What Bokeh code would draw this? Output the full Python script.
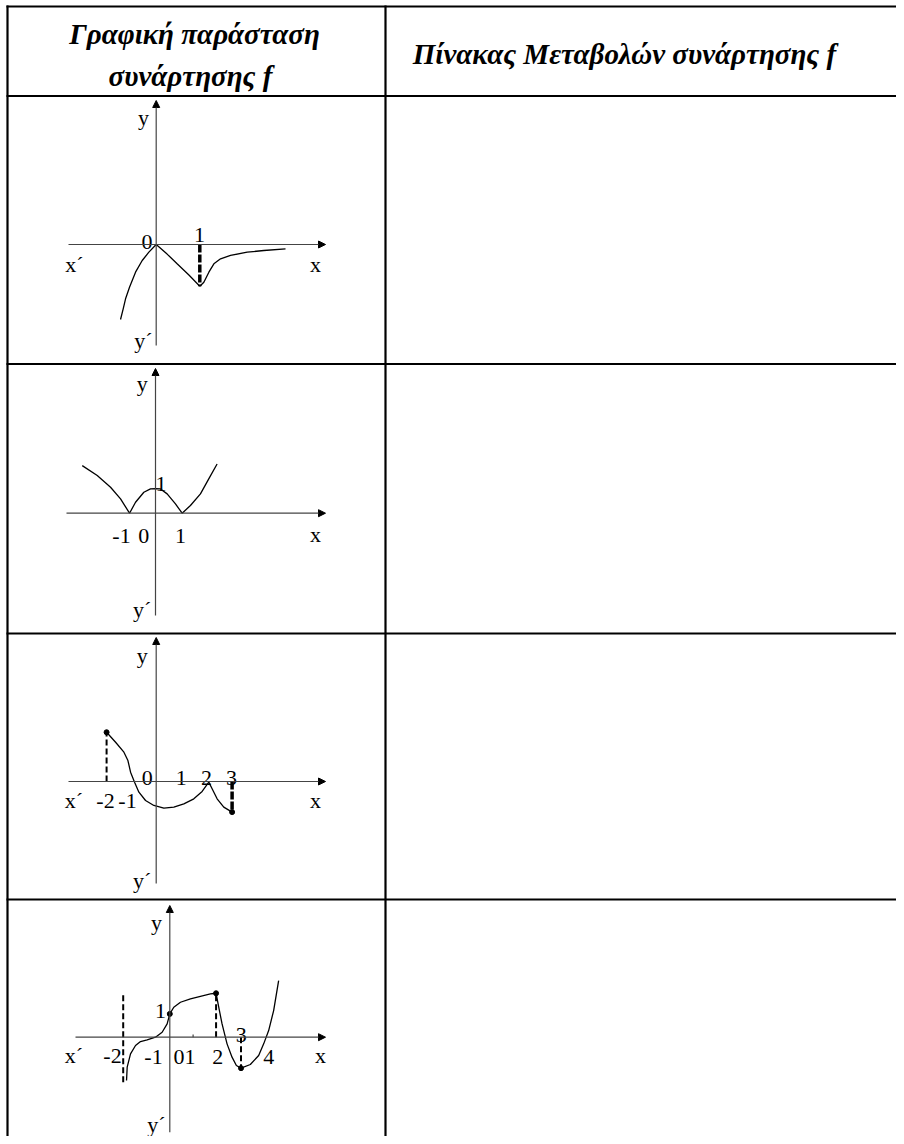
from bokeh.plotting import figure
from bokeh.models import Range1d, Arrow, NormalHead
from bokeh.core.properties import value
from bokeh.embed import file_html
from bokeh.resources import INLINE

# ---------------- data (math coordinates of each sketched graph) ----------------
# Panel 1
g1_left_x = [0.0, -0.168, -0.321, -0.474, -0.612, -0.703, -0.757, -0.818]
g1_left_y = [0.0, -0.176, -0.367, -0.635, -0.979, -1.246, -1.476, -1.72]
g1_mid_x = [0.0, 0.25, 0.48, 0.75, 1.0]
g1_mid_y = [0.0, -0.22, -0.443, -0.70, -0.956]
g1_right_x = [1.0, 1.093, 1.208, 1.323, 1.476, 1.705, 2.087, 2.469, 2.966]
g1_right_y = [-0.956, -0.864, -0.635, -0.443, -0.329, -0.252, -0.176, -0.138, -0.099]
g1_dash_x = [1.0]
g1_dash_y = [-0.956]

# Panel 2
g2_x = [-2.785, -2.215, -1.709, -1.329, -0.987, -0.759, -0.443, -0.19, 0.0, 0.19,
        0.443, 0.759, 1.013, 1.329, 1.709, 2.025, 2.342]
g2_y = [1.959, 1.548, 1.068, 0.589, 0.0, 0.452, 0.863, 1.0, 1.01, 1.0,
        0.795, 0.384, 0.0, 0.315, 0.795, 1.411, 2.027]

# Panel 3
g3_a_x = [-1.961, -1.605, -1.276, -1.118, -1.013, -0.855, -0.684, -0.421, -0.092,
          0.303, 0.697, 1.092, 1.487, 1.816, 2.079]
g3_a_y = [1.947, 1.553, 1.158, 0.829, 0.368, -0.026, -0.421, -0.75, -0.947,
          -1.053, -1.013, -0.882, -0.684, -0.395, -0.026]
g3_b_x = [2.079, 2.21, 2.408, 2.671, 3.0]
g3_b_y = [-0.026, -0.289, -0.684, -1.013, -1.21]
g3_dots_x = [-1.961, 3.0]
g3_dots_y = [1.947, -1.21]
g3_thin_dash_x = [-1.961]
g3_thin_dash_y = [1.947]
g3_thick_dash_x = [3.0]
g3_thick_dash_y = [-1.21]

# Panel 4
g4_a_x = [-1.857, -1.829, -1.686, -1.471, -1.257, -0.971, -0.614, -0.329, -0.114, 0.0]
g4_a_y = [-1.857, -1.286, -0.714, -0.357, -0.186, -0.114, 0.0, 0.214, 0.571, 1.0]
g4_b_x = [0.0, 0.171, 0.457, 0.886, 1.314, 1.743, 1.986]
g4_b_y = [1.0, 1.286, 1.5, 1.643, 1.757, 1.857, 1.886]
g4_c_x = [1.986, 2.1, 2.243, 2.457, 2.671, 2.857, 3.057]
g4_c_y = [1.886, 1.286, 0.571, -0.286, -0.857, -1.214, -1.329]
g4_d_x = [3.057, 3.457, 3.814, 4.029, 4.243, 4.457, 4.671]
g4_d_y = [-1.329, -1.171, -0.786, -0.286, 0.286, 1.143, 2.429]
g4_dots_x = [0.0, 1.986, 3.057]
g4_dots_y = [1.0, 1.886, -1.329]
g4_asym_x = [-2.0]
g4_asym_y0 = [-1.93]
g4_asym_y1 = [1.857]
g4_dash_x = [1.986, 3.057]
g4_dash_y = [1.886, -1.329]

# tick labels / texts
header_left = ["Γραφική παράσταση", "συνάρτησης f"]
header_right = ["Πίνακας Μεταβολών συνάρτησης f"]
p1_labels = ["y", "y´", "x´", "x", "0", "1"]
p2_labels = ["y", "y´", "x", "-1", "0", "1", "1"]
p3_labels = ["y", "y´", "x´", "-2", "-1", "0", "1", "2", "3", "x"]
p4_labels = ["y", "y´", "x´", "-2", "-1", "01", "2", "3", "4", "x", "1"]

# ---------------- layout (picture pixel coordinates) ----------------
W, H = 896, 1136
X0, X1, Y0, Y1 = 0, W, 0, H

panels = [
    dict(ox=155.7, oy=244.0, ux=43.6, uy=43.6, xa=(68, 325), ya=(345, 100)),
    dict(ox=155.0, oy=512.7, ux=26.3, uy=24.3, xa=(66, 325), ya=(615, 368)),
    dict(ox=155.7, oy=781.0, ux=25.3, uy=25.3, xa=(68, 325), ya=(883, 637)),
    dict(ox=169.3, oy=1036.7, ux=23.3, uy=23.3, xa=(75, 325), ya=(1131.7, 905)),
]
p1_pos = [(143, 117), (143, 340), (74, 264), (315, 264), (146.5, 241), (199, 234)]
p2_pos = [(141.7, 383), (141.7, 609), (315, 534), (121, 535), (143.3, 535), (180, 535.7), (160.5, 483.3)]
p3_pos = [(141.7, 655), (141.7, 880), (73.3, 800), (105, 800), (127, 800), (146.7, 777.7),
          (180.7, 777.7), (206, 777.7), (231, 777.7), (315, 800)]
p4_pos = [(156, 921.7), (156, 1124), (73.3, 1055), (112, 1055), (153, 1056.7), (184, 1056.7),
          (217.3, 1056.7), (240.7, 1034), (268.3, 1056.7), (320, 1055), (160, 1010.7)]

p = figure(width=W, height=H, output_backend="svg", toolbar_location=None,
           x_range=Range1d(X0, X1), y_range=Range1d(Y1, Y0), min_border=0,
           outline_line_color=None, background_fill_color="white")
p.axis.visible = False
p.grid.visible = False

# per-panel math ranges
for i, pn in enumerate(panels):
    xs = Range1d((X0 - pn["ox"]) / pn["ux"], (X1 - pn["ox"]) / pn["ux"])
    ys = Range1d((pn["oy"] - Y1) / pn["uy"], (pn["oy"] - Y0) / pn["uy"])
    p.extra_x_ranges[f"x{i}"] = xs
    p.extra_y_ranges[f"y{i}"] = ys

# table lines
TL = dict(line_color="black", line_width=2.2)
for y in [6, 95.5, 363.5, 633, 899]:
    p.segment(x0=[6], y0=[y], x1=[X1], y1=[y], **TL)
p.segment(x0=[7, 385], y0=[5, 5], x1=[7, 385], y1=[Y1, Y1], **TL)

# axes with arrows
for pn in panels:
    p.add_layout(Arrow(end=NormalHead(size=7, fill_color="black", line_color="black", line_width=1),
                       x_start=pn["xa"][0], y_start=pn["oy"], x_end=pn["xa"][1], y_end=pn["oy"],
                       line_color="#444444", line_width=1.2))
    p.add_layout(Arrow(end=NormalHead(size=7, fill_color="black", line_color="black", line_width=1),
                       x_start=pn["ox"], y_start=pn["ya"][0], x_end=pn["ox"], y_end=pn["ya"][1],
                       line_color="#444444", line_width=1.2))

CUR = dict(line_color="black", line_width=1.3)

def rn(i):
    return dict(x_range_name=f"x{i}", y_range_name=f"y{i}")

# panel 1
p.line(g1_left_x, g1_left_y, **CUR, **rn(0))
p.line(g1_mid_x, g1_mid_y, **CUR, **rn(0))
p.line(g1_right_x, g1_right_y, **CUR, **rn(0))
p.segment(x0=g1_dash_x, y0=[0] * len(g1_dash_x), x1=g1_dash_x, y1=g1_dash_y,
          line_color="black", line_width=3.5, line_dash="8 2", **rn(0))

# panel 2
p.line(g2_x, g2_y, **CUR, **rn(1))

# panel 3
p.segment(x0=g3_thin_dash_x, y0=[0], x1=g3_thin_dash_x, y1=g3_thin_dash_y,
          line_color="black", line_width=2, line_dash="6 3", **rn(2))
p.segment(x0=g3_thick_dash_x, y0=[0], x1=g3_thick_dash_x, y1=g3_thick_dash_y,
          line_color="black", line_width=3.5, line_dash="8 2", **rn(2))
p.line(g3_a_x, g3_a_y, **CUR, **rn(2))
p.line(g3_b_x, g3_b_y, **CUR, **rn(2))
p.scatter(g3_dots_x, g3_dots_y, size=5, color="black", **rn(2))

# panel 4
p.segment(x0=g4_asym_x, y0=g4_asym_y0, x1=g4_asym_x, y1=g4_asym_y1,
          line_color="black", line_width=2, line_dash="6 3", **rn(3))
p.segment(x0=g4_dash_x, y0=[0] * len(g4_dash_x), x1=g4_dash_x, y1=g4_dash_y,
          line_color="black", line_width=2, line_dash="6 3", **rn(3))
p.segment(x0=[1.0], y0=[0], x1=[1.0], y1=[0.12], line_color="#444444", line_width=1.2, **rn(3))
for xs_, ys_ in [(g4_a_x, g4_a_y), (g4_b_x, g4_b_y), (g4_c_x, g4_c_y), (g4_d_x, g4_d_y)]:
    p.line(xs_, ys_, **CUR, **rn(3))
p.scatter(g4_dots_x, g4_dots_y, size=5, color="black", **rn(3))

# labels
LBL = dict(text_font=value("Liberation Serif"), text_font_size="22px", text_color="black",
           text_align="center", text_baseline="alphabetic")
for labels, pos in [(p1_labels, p1_pos), (p2_labels, p2_pos), (p3_labels, p3_pos), (p4_labels, p4_pos)]:
    p.text(x=[q[0] for q in pos], y=[q[1] for q in pos], text=labels, **LBL)

HDR = dict(text_font=value("Liberation Serif"), text_font_size="29px", text_font_style="bold italic",
           text_color="black", text_align="center", text_baseline="alphabetic")
p.text(x=[194, 190], y=[33.5, 75], text=header_left, **HDR)
p.text(x=[624], y=[53], text=header_right, **HDR)

open("out.html", "w").write(file_html(p, INLINE))
